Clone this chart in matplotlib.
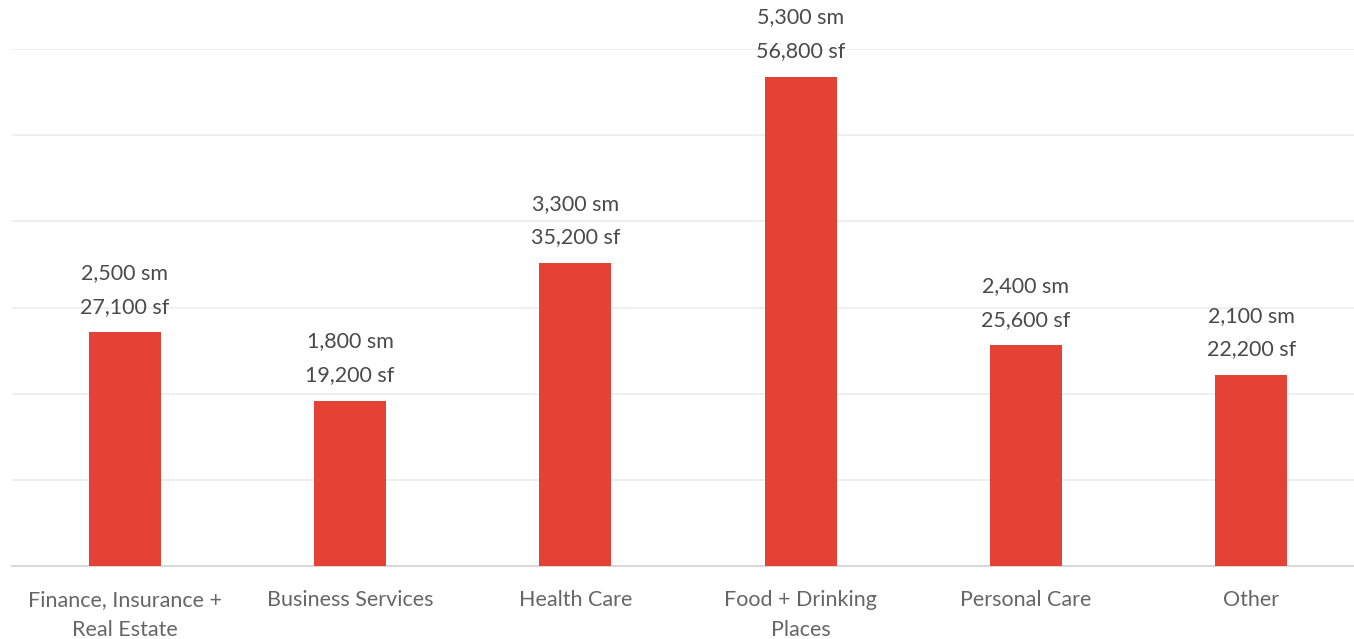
import numpy as np
import matplotlib.pyplot as plt
import matplotlib as mpl

mpl.rcParams['font.family'] = ['Lato', 'DejaVu Sans']

categories = ['Finance, Insurance +\nReal Estate', 'Business Services', 'Health Care',
              'Food + Drinking\nPlaces', 'Personal Care', 'Other']
sf = [27100, 19200, 35200, 56800, 25600, 22200]
sm = [2500, 1800, 3300, 5300, 2400, 2100]

fig = plt.figure(figsize=(13.54, 6.39), dpi=100)
ax = fig.add_axes([12/1354, 73/639, 1352/1354, 517/639])

x = np.arange(len(categories))
ax.bar(x, sf, width=0.32, color='#E34234', zorder=3)

ax.set_xlim(-0.5, 5.5)
ax.set_ylim(0, 60000)
ax.set_yticks(np.arange(0, 60001, 10000))
ax.yaxis.grid(True, color='#ececec', linewidth=1.2, zorder=0)
ax.tick_params(axis='y', left=False, labelleft=False)
ax.tick_params(axis='x', bottom=False, pad=14, labelsize=15.5, labelcolor='#666666')
ax.set_xticks(x)
ax.set_xticklabels(categories, linespacing=1.6)

for s in ['top', 'right', 'left']:
    ax.spines[s].set_visible(False)
ax.spines['bottom'].set_color('#d9d9d9')
ax.spines['bottom'].set_linewidth(1.5)

for i in range(len(sf)):
    ax.annotate('{:,} sf'.format(sf[i]), (x[i], sf[i]), xytext=(0, 18.5), textcoords='offset points',
                ha='center', va='center', fontsize=15.5, color='#4a4a4a', annotation_clip=False)
    ax.annotate('{:,} sm'.format(sm[i]), (x[i], sf[i]), xytext=(0, 42.5), textcoords='offset points',
                ha='center', va='center', fontsize=15.5, color='#4a4a4a', annotation_clip=False)

fig.savefig('out.png', dpi=100)
